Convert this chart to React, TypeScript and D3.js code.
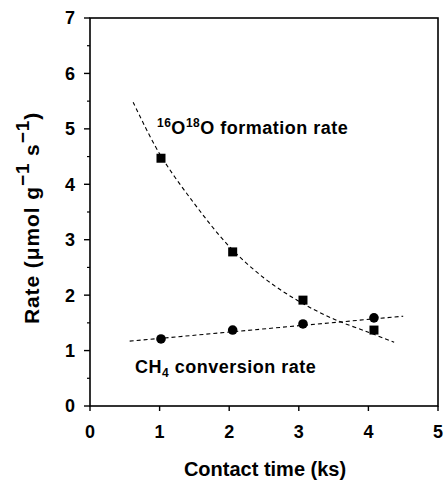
import React from "react";
import * as d3 from "d3";

const contactTime = [1.02, 2.05, 3.06, 4.08];
const o2Rate = [4.47, 2.78, 1.91, 1.37];
const ch4Rate = [1.21, 1.37, 1.48, 1.59];

const o2TrendX = [0.62, 1.0, 1.5, 2.0, 2.5, 3.0, 3.5, 4.0, 4.37];
const o2TrendY = [5.48, 4.55, 3.65, 2.88, 2.31, 1.89, 1.57, 1.33, 1.15];
const ch4TrendX = [0.57, 4.5];
const ch4TrendY = [1.17, 1.62];

const xTicks = [0, 1, 2, 3, 4, 5];
const yTicks = [0, 1, 2, 3, 4, 5, 6, 7];
const yMinor = [0.5, 1.5, 2.5, 3.5, 4.5, 5.5, 6.5];

export default function App() {
  const W = 444, H = 485;
  const L = 90, R = 438, T = 18, B = 406;
  const x = d3.scaleLinear().domain([0, 5]).range([L, R]);
  const y = d3.scaleLinear().domain([0, 7]).range([B, T]);
  const font = "'Liberation Sans', Arial, sans-serif";

  const o2Line = d3
    .line<number>()
    .x((_, i) => x(o2TrendX[i]))
    .y((d) => y(d))
    .curve(d3.curveCatmullRom)(o2TrendY);
  const ch4Line = d3
    .line<number>()
    .x((_, i) => x(ch4TrendX[i]))
    .y((d) => y(d))(ch4TrendY);

  return (
    <svg width={W} height={H} style={{ position: "absolute", left: 0, top: 0, background: "#fff" }} fontFamily={font}>
      <rect x={0} y={0} width={W} height={H} fill="#fff" />
      {/* frame */}
      <rect x={L} y={T} width={R - L} height={B - T} fill="none" stroke="#000" strokeWidth={1.6} />
      {/* y ticks */}
      {yTicks.map((t) => (
        <g key={"y" + t}>
          <line x1={L - 6} x2={L} y1={y(t)} y2={y(t)} stroke="#000" strokeWidth={1.4} />
          <text x={L - 15} y={y(t)} dy="0.36em" textAnchor="end" fontSize={18} fontWeight="bold">
            {t}
          </text>
        </g>
      ))}
      {yMinor.map((t) => (
        <line key={"ym" + t} x1={L - 3} x2={L} y1={y(t)} y2={y(t)} stroke="#000" strokeWidth={1.2} />
      ))}
      {/* x ticks */}
      {xTicks.map((t) => (
        <g key={"x" + t}>
          <line x1={x(t)} x2={x(t)} y1={B} y2={B + 5} stroke="#000" strokeWidth={1.4} />
          <text x={x(t)} y={438} textAnchor="middle" fontSize={18} fontWeight="bold">
            {t}
          </text>
        </g>
      ))}
      {/* axis titles */}
      <text x={265} y={476} textAnchor="middle" fontSize={20} fontWeight="bold">
        Contact time (ks)
      </text>
      <text transform="translate(39,218) rotate(-90)" textAnchor="middle" fontSize={21} fontWeight="bold" letterSpacing={0.9}>
        Rate (μmol g
        <tspan baselineShift="super" fontSize={19}>−1</tspan>
        <tspan> s</tspan>
        <tspan baselineShift="super" fontSize={19}>−1</tspan>
        <tspan>)</tspan>
      </text>
      {/* trend lines */}
      <path d={o2Line || ""} fill="none" stroke="#000" strokeWidth={1.1} strokeDasharray="4,3" />
      <path d={ch4Line || ""} fill="none" stroke="#000" strokeWidth={1.1} strokeDasharray="4,3" />
      {/* markers */}
      {contactTime.map((c, i) => (
        <rect key={"s" + i} x={x(c) - 4.5} y={y(o2Rate[i]) - 4.5} width={9} height={9} fill="#000" />
      ))}
      {contactTime.map((c, i) => (
        <circle key={"c" + i} cx={x(c)} cy={y(ch4Rate[i])} r={4.8} fill="#000" />
      ))}
      {/* annotations */}
      <text x={157} y={134} fontSize={18} fontWeight="bold" letterSpacing={0.5}>
        <tspan fontSize={12} dy={-7}>16</tspan>
        <tspan dy={7}>O</tspan>
        <tspan fontSize={12} dy={-7}>18</tspan>
        <tspan dy={7}>O formation rate</tspan>
      </text>
      <text x={135} y={373} fontSize={18} fontWeight="bold" letterSpacing={0.5}>
        CH<tspan fontSize={12} dy={4}>4</tspan>
        <tspan dy={-4}> conversion rate</tspan>
      </text>
    </svg>
  );
}
